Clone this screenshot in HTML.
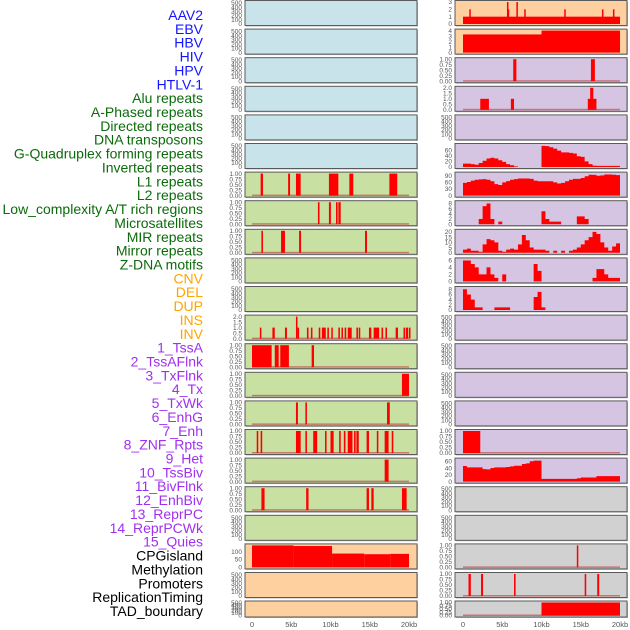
<!DOCTYPE html>
<html><head><meta charset="utf-8"><style>
html,body{margin:0;padding:0;background:#fff}
svg{display:block}
text{font-family:"Liberation Sans",sans-serif}
</style></head><body>
<svg id="chart" width="630" height="630" viewBox="0 0 630 630" xmlns="http://www.w3.org/2000/svg"></svg>
<script>
// ---- data ----
const trackLabels = ["AAV2","EBV","HBV","HIV","HPV","HTLV-1","Alu repeats","A-Phased repeats","Directed repeats","DNA transposons","G-Quadruplex forming repeats","Inverted repeats","L1 repeats","L2 repeats","Low_complexity A/T rich regions","Microsatellites","MIR repeats","Mirror repeats","Z-DNA motifs","CNV","DEL","DUP","INS","INV","1_TssA","2_TssAFlnk","3_TxFlnk","4_Tx","5_TxWk","6_EnhG","7_Enh","8_ZNF_Rpts","9_Het","10_TssBiv","11_BivFlnk","12_EnhBiv","13_ReprPC","14_ReprPCWk","15_Quies","CPGisland","Methylation","Promoters","ReplicationTiming","TAD_boundary"];
const labelGroups = [6,13,5,15,5];
const xTickKb = [0,5,10,15,20];
const xTickLabels = ["0","5kb","10kb","15kb","20kb"];
// interval tracks: [startKb, endKb, value]
const L6 = [[1.1,1.4,1],[4.6,4.85,1],[5.6,6.2,1],[9.8,11,1],[12.4,12.9,1],[17.5,18.5,1]];
const L7 = [[8.4,8.6,1],[9.8,10.05,1],[10.7,10.9,1],[11,11.3,1]];
const L8 = [[1.2,1.4,1],[3.7,4.2,1],[6,6.25,1],[14.4,14.65,1]];
const L11 = [[1.0,1.2,1],[2.6,2.9,1],[4.2,4.45,1],[5.6,5.75,2],[5.8,6,1],[7,7.2,1],[7.5,7.7,1],[8.5,8.7,1],[8.9,9.4,1],[9.6,9.8,1],[10.1,10.25,1],[11,11.2,1],[11.4,11.55,1],[11.8,12,1],[12.2,12.7,1],[13.3,13.5,1],[13.6,13.75,1],[14.9,15.2,1],[15.5,16.2,1],[16.5,16.7,1],[17,17.2,1],[18.3,18.6,1],[19.3,19.5,1],[19.6,19.9,1],[20.0,20.1,1]];
const L12 = [[0,2.5,1],[2.9,3.4,1],[3.6,4.7,1],[7.6,7.9,1]];
const L13 = [[19.1,20,1]];
const L14 = [[5.6,5.85,1],[6.8,7,1],[17.2,17.55,1]];
const L15 = [[0.6,0.8,1],[1.1,1.3,1],[5.6,6.2,1],[6.8,7,1],[7.8,8.3,1],[9.3,9.5,1],[10,10.4,1],[11.1,11.3,1],[11.7,11.9,1],[12.2,12.8,1],[13,13.2,1],[13.3,13.6,1],[14.6,14.9,1],[15.9,16.1,1],[16.9,17.4,1],[17.8,18,1]];
const L16 = [[16.9,17.4,1]];
const L17 = [[1.2,1.6,1],[6.9,7.2,1],[14.6,14.9,1],[15.2,15.5,1],[19.1,19.7,1]];
const L19 = [[0,5.3,140],[5.3,10.2,136],[10.2,14.3,88],[14.3,17.6,84],[17.6,20,86]];
const R0 = [[0,20,1],[0.8,0.95,2],[5.6,5.7,3],[5.7,5.85,2],[6.8,6.95,3],[7.8,7.95,2],[12.9,13.05,2],[17.7,17.85,2],[19.1,19.25,2]];
const R1 = [[0,10,3.3],[10,20,4]];
const R2 = [[6.4,6.8,1],[16.3,16.8,1]];
const R3 = [[2.2,3.3,1],[6.1,6.5,1],[15.9,17,1],[16.2,16.6,2]];
const R15 = [[0,2.2,1]];
const R19 = [[14.5,14.65,1]];
const R20 = [[0.7,1,1],[2.3,2.55,1],[6.5,6.7,1],[15.5,15.7,1],[17.1,17.35,1]];
const R21 = [[10,20,1]];
// binned tracks: 0.5kb bins (40 values)
const R5 = [12,12,10,8,14,22,30,33,30,24,18,10,6,2,0,0,0,0,0,0,75,74,70,65,58,52,52,50,48,38,36,20,10,5,4,4,4,4,4,4];
const R6 = [58,62,68,72,74,75,72,65,52,48,60,66,72,75,78,78,78,76,68,65,65,65,65,60,55,58,65,72,76,76,80,88,95,94,90,92,96,96,95,93];
const R7 = [0,0,0,0,2,7,8,2,0,1,0,0,0,0,0,0,0,0,0,0,5,2,1,1,1,0,0,0,0,3,3,2,0,0,0,0,0,0,0,0];
const R8 = [3,4,2,2,1,8,13,12,10,2,1,3,4,3,8,17,12,5,3,3,3,2,0,2,0,2,0,2,3,5,8,12,15,20,18,10,5,2,6,9];
const R9 = [6,6,5,4,2,2,4,2,1,0,2,0,0,0,0,0,0,0,5,3,0,0,0,0,0,0,0,0,0,0,0,0,0,1,3.5,3.5,2,1,1,1];
const R10 = [8,6,4,1,1,0,0,0,1,1,1,1,0,0,0,0,0,0,5,7,1,0,0,0,0,0,0,0,0,0,0,0,0,0,0,0,0,0,0,0];
const R16 = [46,42,42,42,42,37,36,40,42,42,42,43,45,47,47,52,54,60,62,62,8,8,8,8,8,8,8,8,8,10,12,12,12,12,16,16,16,16,16,16];

// ---- config ----
const BG = {blue:"#c8e3ea",green:"#c8e0a2",orange:"#fecf9f",purple:"#d5c5e3",grey:"#d1d1d1"};
const T500 = ["500","400","300","200","100","0"], T1 = ["1.00","0.75","0.50","0.25","0.00"], T2 = ["2.0","1.5","1.0","0.5","0.0"];
const left = [], right = [];
for (let i=0;i<6;i++) left.push({bg:"blue",kind:"empty"});
left.push({bg:"green",kind:"bars",d:L6,max:1},{bg:"green",kind:"bars",d:L7,max:1},{bg:"green",kind:"bars",d:L8,max:1},
 {bg:"green",kind:"empty"},{bg:"green",kind:"empty"},{bg:"green",kind:"bars",d:L11,max:2,ticks:T2},
 {bg:"green",kind:"bars",d:L12,max:1},{bg:"green",kind:"bars",d:L13,max:1},{bg:"green",kind:"bars",d:L14,max:1},
 {bg:"green",kind:"bars",d:L15,max:1},{bg:"green",kind:"bars",d:L16,max:1},{bg:"green",kind:"bars",d:L17,max:1},
 {bg:"green",kind:"empty"},{bg:"orange",kind:"steps",d:L19,max:140,ticks:["100","50","0"],tv:[100,50,0]},
 {bg:"orange",kind:"empty"},{bg:"orange",kind:"empty"});
right.push({bg:"orange",kind:"steps",d:R0,max:3,ticks:["3","2","1","0"],tv:[3,2,1,0]},
 {bg:"orange",kind:"steps",d:R1,max:4,ticks:["4","3","2","1","0"],tv:[4,3,2,1,0]},
 {bg:"purple",kind:"bars",d:R2,max:1},{bg:"purple",kind:"bars",d:R3,max:2,ticks:T2},{bg:"purple",kind:"empty"},
 {bg:"purple",kind:"bins",d:R5,max:78,ticks:["60","40","20","0"],tv:[60,40,20,0]},
 {bg:"purple",kind:"bins",d:R6,max:100,ticks:["90","60","30","0"],tv:[90,60,30,0]},
 {bg:"purple",kind:"bins",d:R7,max:8.5,ticks:["8","6","4","2","0"],tv:[8,6,4,2,0]},
 {bg:"purple",kind:"bins",d:R8,max:21,ticks:["20","15","10","5","0"],tv:[20,15,10,5,0]},
 {bg:"purple",kind:"bins",d:R9,max:6.3,ticks:["6","4","2","0"],tv:[6,4,2,0]},
 {bg:"purple",kind:"bins",d:R10,max:8.5,ticks:["8","6","4","2","0"],tv:[8,6,4,2,0]},
 {bg:"purple",kind:"empty"},{bg:"purple",kind:"empty"},{bg:"purple",kind:"empty"},{bg:"purple",kind:"empty"},
 {bg:"purple",kind:"bars",d:R15,max:1},
 {bg:"purple",kind:"bins",d:R16,max:65,ticks:["60","40","20","0"],tv:[60,40,20,0]},
 {bg:"grey",kind:"empty"},{bg:"grey",kind:"empty"},{bg:"grey",kind:"bars",d:R19,max:1},
 {bg:"grey",kind:"bars",d:R20,max:1},{bg:"grey",kind:"bars",d:R21,max:1});

// ---- drawing ----
const NS="http://www.w3.org/2000/svg", svg=document.getElementById("chart");
function el(tag,attrs,parent){const e=document.createElementNS(NS,tag);for(const k in attrs)e.setAttribute(k,attrs[k]);(parent||svg).appendChild(e);return e;}
const cols=[{px:245,x0:252,x1:409},{px:455,x0:463,x1:620}];
const PW=172;
function rowTop(i){return i<21?0.5+i*28.6:601;}
function rowH(i){return i<21?25:16;}

const colorsByGroup=["#1414ff","#0b6b0b","#ffa500","#a030f0","#000"];
let gi=0,cnt=0;
trackLabels.forEach((lab,i)=>{
  const t=el("text",{x:203,y:15+i*13.86+5,"text-anchor":"end","font-size":"14",fill:colorsByGroup[gi]});
  t.textContent=lab;
  
  
  cnt++; if(cnt>=labelGroups[gi]){gi++;cnt=0;}
});

function drawPanel(cfg,ci,ri){
  const c=cols[ci], top=rowTop(ri), h=rowH(ri);
  const xs=kb=>c.x0+kb/20*(c.x1-c.x0);
  const bot=top+h-1.5;
  const g=el("g",{});
  
  
  el("rect",{x:c.px+1,y:top+1,width:PW,height:h,fill:"#bbb"},g);
  el("rect",{x:c.px,y:top,width:PW,height:h,fill:BG[cfg.bg],stroke:"#5a5a5a","stroke-width":1},g);
  let ticks, tv, max=cfg.max;
  if(cfg.kind==="empty"){ticks=T500;tv=[500,400,300,200,100,0];max=520;}
  else if(cfg.ticks){ticks=cfg.ticks;tv=cfg.tv||ticks.map(Number);}
  else {ticks=T1;tv=[1,0.75,0.5,0.25,0];}
  const ys=v=>bot-v/max*(h-3);
  ticks.forEach((lab,k)=>{
    const t=el("text",{x:c.px-3,y:ys(tv[k])+2.2,"text-anchor":"end","font-size":"6.5",fill:"#555"},g);
    t.textContent=lab;
    
    
  });
  if(cfg.kind==="bars"){
    const b=el("rect",{x:xs(0),y:bot-1,width:xs(20)-xs(0),height:1.5,fill:"#c0504d",opacity:0.7},g);
    
    
  }
  if(cfg.kind==="bars"||cfg.kind==="steps"){
    cfg.d.forEach(s=>{
      const r=el("rect",{x:xs(s[0]),y:ys(s[2]),width:Math.max(1.5,xs(s[1])-xs(s[0])),height:bot-ys(s[2]),fill:"#ff0000"},g);
      
      
    });
  }
  if(cfg.kind==="bins"){
    let p="M"+xs(0)+","+bot;
    cfg.d.forEach((v,k)=>{p+=" L"+xs(k*0.5)+","+ys(v)+" L"+xs(k*0.5+0.5)+","+ys(v);});
    p+=" L"+xs(20)+","+bot+" Z";
    const a=el("path",{d:p,fill:"#ff0000"},g);
    
    
  }
}
left.forEach((cfg,i)=>drawPanel(cfg,0,i));
right.forEach((cfg,i)=>drawPanel(cfg,1,i));

cols.forEach(c=>{
  xTickKb.forEach((kb,k)=>{
    const t=el("text",{x:c.x0+kb/20*(c.x1-c.x0),y:627,"text-anchor":"middle","font-size":"7.5",fill:"#555"});
    t.textContent=xTickLabels[k];
    
    
  });
});
</script>
</body></html>
